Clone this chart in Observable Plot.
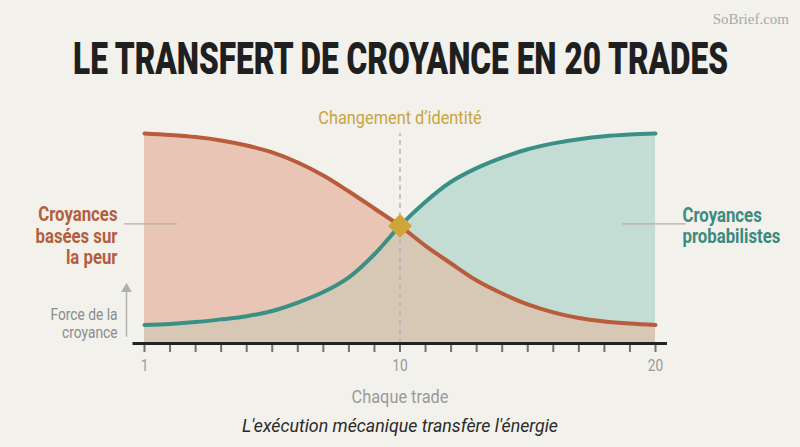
<!DOCTYPE html>
<html>
<head>
<meta charset="utf-8">
<script src="https://cdn.jsdelivr.net/npm/d3@7"></script>
<script src="https://cdn.jsdelivr.net/npm/@observablehq/plot@0.6"></script>
<style>
  html, body { margin: 0; padding: 0; background: #f2f1ec; }
  #wrap { position: relative; width: 800px; height: 447px; overflow: hidden; background: #f2f1ec; }
  #brand { position: absolute; top: 12px; right: 11px; font-family: "Liberation Serif", "DejaVu Serif", serif; font-size: 15px; line-height: 15px; color: #a9a9a9; }
  .fit { position: absolute; white-space: nowrap; transform-origin: 0 0; }
  #titleText { top: 37px; left: 73px; font-family: Roboto, "Noto Sans", sans-serif; font-weight: 900; font-size: 44px; line-height: 44px; color: #1f1f1f; }
  #chart { position: absolute; top: 95px; left: 0; }
  #sub { top: 417px; left: 242px; font-family: Roboto, "Noto Sans", sans-serif; font-style: italic; font-size: 18px; line-height: 18px; color: #2a2a2a; }
</style>
</head>
<body>
<div id="wrap">
  <div id="brand">SoBrief.com</div>
  <div id="titleText" class="fit" data-w="655">LE TRANSFERT DE CROYANCE EN 20 TRADES</div>
  <div id="chart"></div>
  <div id="sub" class="fit" data-w="316">L'exécution mécanique transfère l'énergie</div>
</div>
<script>
// ---- data ----
const trades = [0, 1, 2, 3, 4, 5, 6, 7, 8, 9, 10, 11, 12, 13, 14, 15, 16, 17, 18, 19, 20];
const peur = [100, 99.3, 98.3, 96.7, 94.3, 91.0, 86.2, 80.0, 72.4, 64.3, 56, 46.5, 38.1, 30.0, 23.8, 18.6, 14.8, 12.1, 10.5, 9.5, 8.8];
const proba = [8.8, 9.3, 10.2, 11.5, 13.0, 15.5, 19.5, 24.5, 31.5, 42.5, 56, 67.5, 77, 83.5, 88.5, 92.5, 95.3, 97.3, 98.7, 99.5, 100];
const tickValues = [0, 10, 20];
const tickLabels = ["1", "10", "20"];
const crossing = [{x: 10, y: 56}];
const labelLeft = ["Croyances\nbasées sur\nla peur"];
const labelRight = ["Croyances\nprobabilistes"];
const axisNote = ["Force de la\ncroyance"];
const changeLabel = ["Changement d’identité"];
const xLabel = ["Chaque trade"];
const connectors = [{x1: -0.78, x2: 1.29, y: 57}, {x1: 18.71, x2: 21.2, y: 57}];
const axisExtent = {x1: -0.45, x2: 20.47};

const rows = trades.map((t, i) => ({t, peur: peur[i], proba: proba[i], low: Math.min(peur[i], proba[i])}));
const labelMap = new Map(tickValues.map((v, i) => [v, tickLabels[i]]));

const F = `Roboto, "Noto Sans", sans-serif`;
const RED = "#b85c3c", TEAL = "#3a9085";
const CURVE = "catmull-rom";

const chart = Plot.plot({
  width: 800, height: 315,
  marginLeft: 144, marginRight: 145, marginTop: 38, marginBottom: 67,
  x: {domain: [0, 20]},
  y: {domain: [0, 100], axis: null},
  style: {background: "transparent", fontFamily: F, overflow: "visible"},
  marks: [
    Plot.areaY(rows, {x: "t", y: "peur", fill: "#e8c5b5", curve: CURVE}),
    Plot.areaY(rows, {x: "t", y: "proba", fill: "#c3ddd5", curve: CURVE}),
    Plot.areaY(rows, {x: "t", y: "low", fill: "#d6c8b5", curve: "monotone-x"}),
    Plot.ruleX(crossing, {x: "x", y1: 0, y2: 100, stroke: "#b5b5b5", strokeWidth: 1.5, strokeDasharray: "5,4"}),
    Plot.ruleY(connectors, {x1: "x1", x2: "x2", y: "y", stroke: "#b7aea6", strokeWidth: 1.2}),
    Plot.lineY(rows, {x: "t", y: "peur", stroke: RED, strokeWidth: 4, curve: CURVE}),
    Plot.lineY(rows, {x: "t", y: "proba", stroke: TEAL, strokeWidth: 4, curve: CURVE}),
    Plot.dot(crossing, {x: "x", y: "y", symbol: "square", r: 9.5, rotate: 45, fill: "#cfa53a", stroke: "none"}),
    Plot.axisX({ticks: trades, tickSize: 9, tickFormat: () => "", stroke: "#727272", strokeWidth: 2, label: null}),
    Plot.axisX({ticks: tickValues, tickSize: 0, tickPadding: 16, tickFormat: d => labelMap.get(d), color: "#9a9a9a", fontSize: 16, label: null}),
    Plot.ruleY([0], {x1: axisExtent.x1, x2: axisExtent.x2, stroke: "#222", strokeWidth: 3}),
    Plot.text(changeLabel, {frameAnchor: "top", dy: -10, lineAnchor: "bottom", fill: "#c8a443", fontSize: 19, fontFamily: F}),
    Plot.text(labelLeft, {frameAnchor: "left", dx: -27, dy: -3, textAnchor: "end", lineAnchor: "middle", lineHeight: 1.12, fill: "#b35f3d", fontSize: 19.5, fontWeight: 700, fontFamily: F}),
    Plot.text(labelRight, {frameAnchor: "right", dx: 27, dy: -13, textAnchor: "start", lineAnchor: "middle", lineHeight: 1.12, fill: "#3d8a7e", fontSize: 19.5, fontWeight: 700, fontFamily: F}),
    Plot.text(axisNote, {frameAnchor: "bottom-left", dx: -27, dy: -6, textAnchor: "end", lineAnchor: "bottom", lineHeight: 1.12, fill: "#8c8c8c", fontSize: 16, fontFamily: F}),
    Plot.ruleX([0], {x: d => d, y1: 3, y2: 26, dx: -18, stroke: "#b0b0b0", strokeWidth: 1.5}),
    Plot.dot([0], {x: d => d, y: 26, dx: -18, symbol: "triangle", r: 4, fill: "#b0b0b0", stroke: "none"}),
    Plot.text(xLabel, {frameAnchor: "bottom", dy: 59, lineAnchor: "bottom", fill: "#9a9a9a", fontSize: 19, fontFamily: F})
  ]
});
document.getElementById("chart").appendChild(chart);

// condense SVG text horizontally around its anchor
chart.querySelectorAll("text").forEach(el => {
  const tr = el.getAttribute("transform");
  el.setAttribute("transform", (tr ? tr + " " : "") + "scale(0.86,1)");
});

// fit HTML texts to reference width
document.querySelectorAll(".fit").forEach(el => {
  const w = el.getBoundingClientRect().width;
  if (w > 0) el.style.transform = `scaleX(${(+el.dataset.w) / w})`;
});
</script>
</body>
</html>
